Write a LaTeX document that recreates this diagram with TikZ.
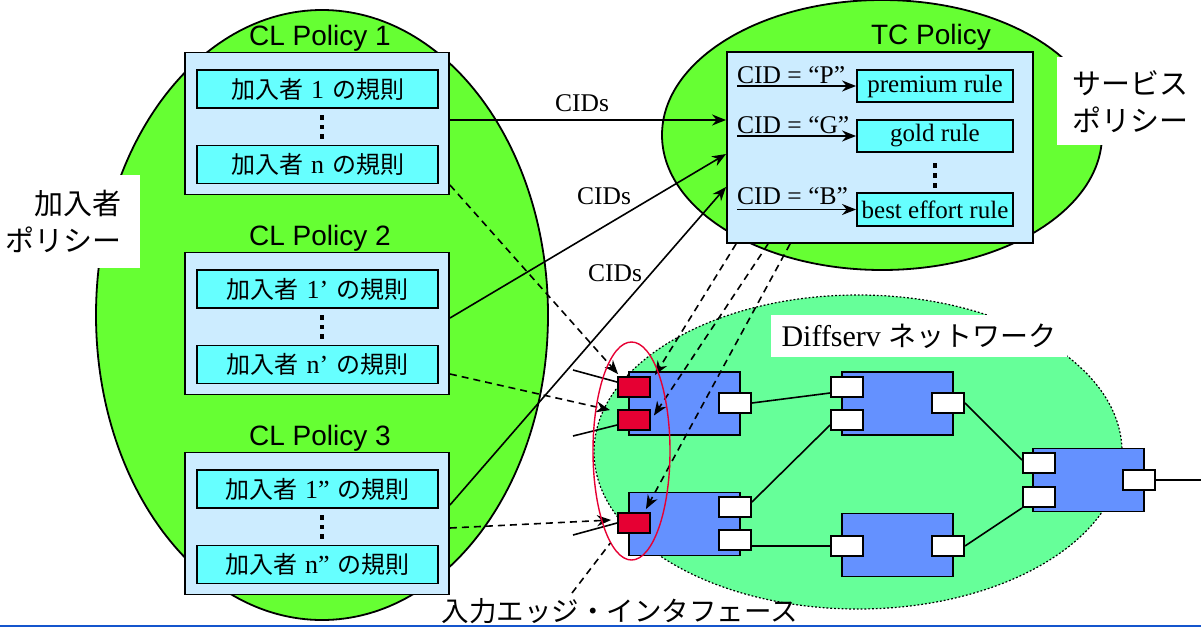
\documentclass[tikz,border=0pt]{standalone}
\usepackage{fontspec}
\setmainfont{Liberation Serif}
\newfontfamily\sansf{Liberation Sans}
\newfontfamily\jpf{Noto Sans CJK JP}
\usetikzlibrary{arrows.meta,shapes.geometric,calc}
\definecolor{polgreen}{RGB}{102,255,51}
\definecolor{dsgreen}{RGB}{102,255,153}
\definecolor{polblue}{RGB}{204,236,255}
\definecolor{rulecyan}{RGB}{102,255,255}
\definecolor{routerblue}{RGB}{100,145,255}
\definecolor{edgered}{RGB}{230,0,51}
\definecolor{barblue}{RGB}{20,85,205}
\newcommand\SubRule[1]{{\jpf 加入者}\hspace{8pt}{\fontsize{26}{28}\selectfont #1}\hspace{8pt}{\jpf の規則}}
\tikzset{
  ell/.style={ellipse, draw, line width=1.8pt, inner sep=0pt},
  polbox/.style={draw, fill=polblue, line width=1.9pt, inner sep=0pt, minimum width=264pt, minimum height=142pt},
  rulebox/.style={draw, fill=rulecyan, line width=1.9pt, inner sep=0pt, minimum width=241pt, minimum height=38pt, font=\fontsize{24}{28}\selectfont},
  tcbox/.style={draw, fill=polblue, line width=1.9pt, inner sep=0pt, minimum width=306pt, minimum height=191pt},
  svcbox/.style={draw, fill=rulecyan, line width=1.9pt, inner sep=0pt, minimum width=156pt, minimum height=32pt, font=\fontsize{25}{28}\selectfont},
  ptitle/.style={font=\sansf\fontsize{28}{32}\selectfont, inner sep=0pt},
  router/.style={draw, fill=routerblue, line width=1.9pt, inner sep=0pt, minimum width=111pt, minimum height=63pt},
  rport/.style={draw, fill=white, line width=1.9pt, inner sep=0pt, minimum width=32pt, minimum height=20pt},
  inport/.style={rport, fill=edgered},
  arr/.style={line width=1.6pt, -{Stealth[length=14pt,width=11pt]}},
  darr/.style={arr, dash pattern=on 7pt off 5pt},
  dline/.style={line width=1.6pt, dash pattern=on 7pt off 5pt},
  wire/.style={line width=1.6pt},
  cidlbl/.style={font=\fontsize{25.5}{28}\selectfont, inner sep=0pt},
}
\begin{document}
\begin{tikzpicture}[x=1pt,y=-1pt]
\useasboundingbox (0,0) rectangle (1201,627);

% policy regions
\node[ell, fill=polgreen, minimum width=452pt, minimum height=610pt] (subpol) at (322,315) {};
\node[ell, fill=polgreen, minimum width=440pt, minimum height=270pt] (svcpol) at (882,135) {};
\node[ell, fill=dsgreen, dotted, line width=1.2pt, minimum width=528pt, minimum height=314pt] (dsnet) at (858,452) {};

% labels with white background
\node[fill=white, anchor=north east, align=right, inner xsep=18pt, inner ysep=15pt,
      font=\jpf\fontsize{29}{37}\selectfont] (sublbl) at (140,175) {加入者\\ポリシー};
\node[fill=white, anchor=north west, align=left, inner xsep=15pt, inner ysep=13pt,
      font=\jpf\fontsize{29}{37}\selectfont] (svclbl) at (1057,57) {サービス\\ポリシー};
\node[fill=white, inner sep=0pt, minimum width=296pt, minimum height=42pt,
      font=\fontsize{30}{34}\selectfont] (dslbl) at (919,336) {Diffserv {\jpf\fontsize{28}{34}\selectfont ネットワーク}};

% CL policies
\node[polbox] (cl1) at (317,123.5) {};
\node[polbox] (cl2) at (317,323.5) {};
\node[polbox] (cl3) at (317,523.5) {};
\node[ptitle] (cl1t) at (320,38.5) {CL Policy 1};
\node[ptitle] (cl2t) at (320,238.5) {CL Policy 2};
\node[ptitle] (cl3t) at (320,438.5) {CL Policy 3};
\node[rulebox] (r1a) at (317.5,89) {\SubRule{1}};
\node[rulebox] (r1b) at (317.5,164.5) {\SubRule{n}};
\node[rulebox] (r2a) at (317.5,289) {\SubRule{1’}};
\node[rulebox] (r2b) at (317.5,364.5) {\SubRule{n’}};
\node[rulebox] (r3a) at (317.5,489) {\SubRule{1”}};
\node[rulebox] (r3b) at (317.5,564.5) {\SubRule{n”}};
\foreach \c in {123.5,323.5,523.5}
  \foreach \d in {-6,3.5,13}
    \fill (319.6,\c+\d-2.4) rectangle (324.4,\c+\d+2.4);

% TC policy
\node[tcbox] (tc) at (880,147.5) {};
\node[ptitle] (tct) at (931,37) {TC Policy};
\node[svcbox] (prem) at (935,86) {premium rule};
\node[svcbox] (gold) at (935,136) {gold rule};
\node[svcbox, minimum height=33pt] (best) at (935,209.5) {best effort rule};
\foreach \d in {165.5,175.5,185.5}
  \fill (932.6,\d-2.4) rectangle (937.4,\d+2.4);
\node[cidlbl, anchor=base west] (cidP) at (737,83) {CID = “P”};
\node[cidlbl, anchor=base west] (cidG) at (737,133) {CID = “G”};
\node[cidlbl, anchor=base west] (cidB) at (737,204) {CID = “B”};
\draw[arr] (prem.west -| cidP.west) -- (prem.west);
\draw[arr] (gold.west -| cidG.west) -- (gold.west);
\draw[arr] (best.west -| cidB.west) -- (best.west);

% Diffserv routers
\node[router] (n1) at (684.5,403.5) {};
\node[router] (n2) at (897.5,403.5) {};
\node[router] (n3) at (684.5,524) {};
\node[router] (n4) at (897.5,545) {};
\node[router] (n5) at (1088.5,480) {};
\node[inport] (red1) at (634,387) {};
\node[inport] (red2) at (634,420) {};
\node[inport] (red3) at (634,523) {};
\node[rport] (p1r) at (735,403) {};
\node[rport] (p2la) at (847,387) {};
\node[rport] (p2lb) at (847,420) {};
\node[rport] (p2r) at (948,403) {};
\node[rport] (p3ra) at (735,507) {};
\node[rport] (p3rb) at (735,540) {};
\node[rport] (p4l) at (847,546) {};
\node[rport] (p4r) at (948,546) {};
\node[rport] (p5la) at (1039,463) {};
\node[rport] (p5lb) at (1039,497) {};
\node[rport] (p5r) at (1139,480) {};
\coordinate (dsout) at (1201,480);
\draw[wire] (p1r.east) -- ([yshift=-6pt]p2la.west);
\draw[wire] ([yshift=-5pt]p2lb.west) -- ([yshift=5pt]p3ra.east);
\draw[wire] (p3rb.east |- p4l.west) -- (p4l.west);
\draw[wire] (p2r.east) -- ([yshift=3pt]p5la.west);
\draw[wire] (p4r.east) -- (p5lb.south west);
\draw[wire] (p5r.east) -- (dsout);

% CIDs arrows
\draw[arr] ([yshift=3.5pt]cl1.east) -- ([yshift=3.5pt]cl1.east -| tc.west);
\draw[arr] ([yshift=5.5pt]cl2.east) -- ([yshift=-6.5pt]tc.west);
\draw[arr] ([yshift=18.5pt]cl3.east) -- ([yshift=-39.5pt]tc.west);
\node[cidlbl] (cids1) at (582,103) {CIDs};
\node[cidlbl] (cids2) at (604,196) {CIDs};
\node[cidlbl] (cids3) at (615,273) {CIDs};

% inputs
\coordinate (in1) at (573,370);
\coordinate (in2) at (573,436);
\coordinate (in3) at (573,535);
\draw[wire] (in1) -- ([yshift=5pt]red1.west);
\draw[wire] (in2) -- ([yshift=-5pt]red2.west);
\draw[wire] (in3) -- (red3.west);

% dashed arrows CL -> edge
\draw[darr] ([yshift=-61.5pt]cl1.east) -- ([xshift=1pt,yshift=2pt]red1.north west);
\draw[darr] ([yshift=-50.5pt]cl2.east) -- ([xshift=-7pt,yshift=-1pt]red2.north west);
\draw[darr] ([yshift=-4.5pt]cl3.east) -- ([xshift=-6pt,yshift=3pt]red3.west);

% dashed arrows TC -> edge
\draw[darr] ([xshift=10pt]tc.south west) -- ([xshift=4pt,yshift=1pt]red1.north east);
\draw[darr] ([xshift=42pt]tc.south west) -- ([xshift=3pt,yshift=4.5pt]red2.east);
\draw[darr] ([xshift=64pt]tc.south west) -- ([xshift=-5pt,yshift=3pt]red3.north east);

% edge interface marker
\node[ellipse, draw=edgered, line width=1.4pt, inner sep=0pt, minimum width=77pt, minimum height=218pt] (edgeell) at (631.5,451) {};
\coordinate (callout) at (572,593);
\draw[dline] (callout) -- (edgeell.257);
\node[inner sep=0pt, font=\jpf\fontsize{27.5}{30}\selectfont] (edgelbl) at (620,611) {入力エッジ・インタフェース};

% bottom bar
\coordinate (barl) at (0,626);
\coordinate (barr) at (1201,626);
\draw[line width=2.5pt, draw=barblue] (barl) -- (barr);
\end{tikzpicture}
\end{document}
